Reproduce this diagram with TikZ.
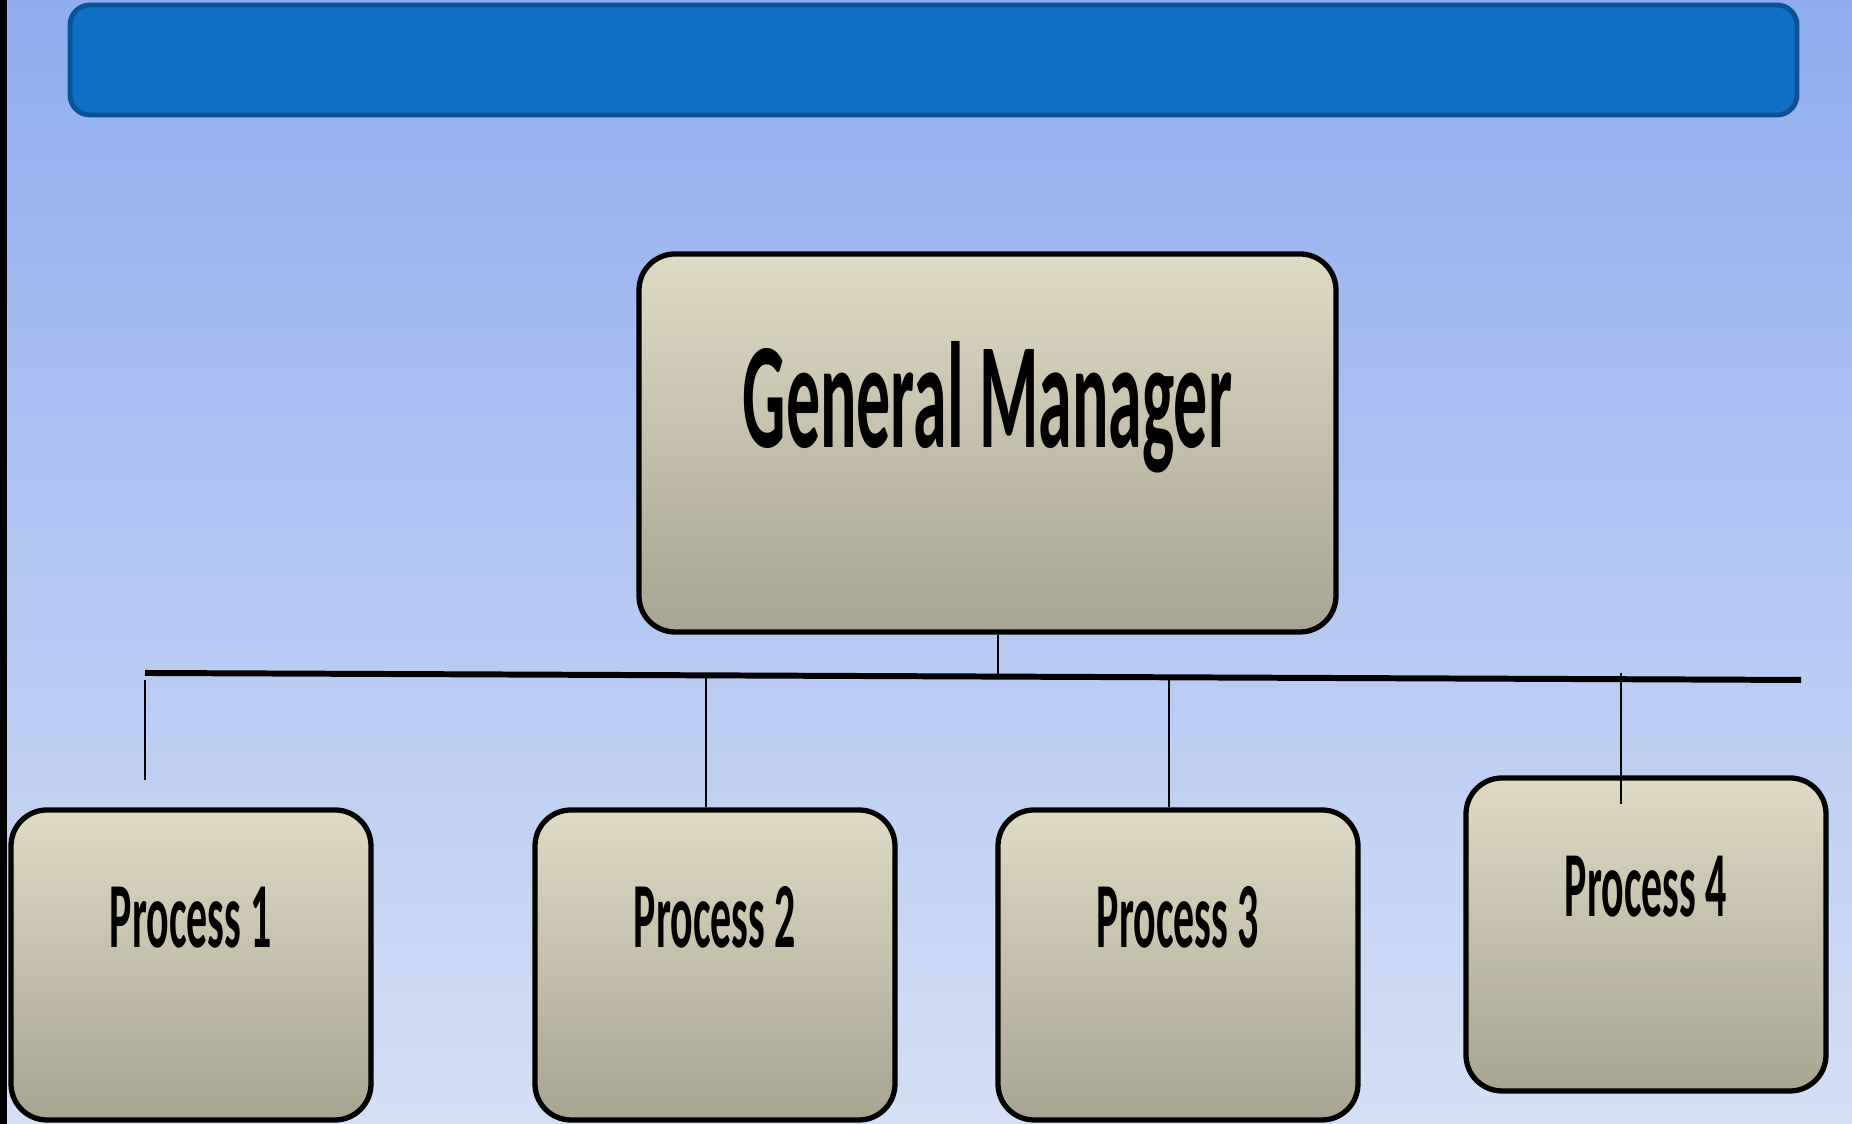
\documentclass[tikz,border=0pt]{standalone}
\usepackage{fontspec}
\setmainfont{Carlito}
\usepackage{tikz}

\definecolor{skytop}{RGB}{143,173,238}
\definecolor{skybottom}{RGB}{213,223,246}
\definecolor{barfill}{RGB}{16,110,198}
\definecolor{barline}{RGB}{10,82,150}
\definecolor{boxtop}{RGB}{223,218,196}
\definecolor{boxbottom}{RGB}{167,164,146}

\newcommand{\narrowtext}[1]{\scalebox{0.45}[1]{#1}}

\begin{document}
\begin{tikzpicture}[
    box/.style={draw, line width=1.5pt, rounded corners=0.36cm, top color=boxtop, bottom color=boxbottom, inner sep=0pt},
    gmbox/.style={box, minimum width=6.97cm, minimum height=3.78cm, font=\fontsize{43}{50}\selectfont\bfseries, text height=1cm, text depth=0.9cm},
    procbox/.style={box, minimum width=3.6cm, minimum height=3.1cm, font=\fontsize{26.5}{30}\selectfont\bfseries, text height=0.62cm, text depth=0.97cm},
    link/.style={line width=0.8pt}
  ]

    \useasboundingbox (0, 0) rectangle (18.52, 11.24);
    \shade [top color=skytop, bottom color=skybottom] (0, 0) rectangle (18.52, 11.24);
    \fill [black] (0, 0) rectangle (0.07, 11.24);

    \node [draw=barline, line width=1.4pt, fill=barfill, rounded corners=0.2cm, minimum width=17.27cm, minimum height=1.1cm] (titlebar) at (9.335, 10.64) {};

    \node [gmbox] (gm) at (9.875, 6.81) {\narrowtext{General Manager}};

    \node [procbox] (p1) at (1.91, 1.59) {\narrowtext{Process 1}};
    \node [procbox] (p2) at (7.15, 1.59) {\narrowtext{Process 2}};
    \node [procbox] (p3) at (11.78, 1.59) {\narrowtext{Process 3}};
    \node [procbox, minimum height=3.13cm] (p4) at (16.46, 1.895) {\narrowtext{Process 4}};

    \coordinate (busl) at (1.45, 4.51);
    \coordinate (busr) at (18.01, 4.44);
    \coordinate (gmfoot) at (9.98, 4.48);

    \coordinate (t1) at (1.45, 4.44);
    \coordinate (b1) at (1.45, 3.44);
    \coordinate (t2) at (7.06, 4.47);
    \coordinate (t3) at (11.69, 4.46);
    \coordinate (t4) at (16.21, 4.51);
    \coordinate (b4) at (16.21, 3.20);

    \draw [line width=1.7pt] (busl) to (busr);

    \draw [link] (gmfoot |- gm.south) to (gmfoot);

    \draw [link] (t1) to (b1);
    \draw [link] (t2) to (t2 |- p2.north);
    \draw [link] (t3) to (t3 |- p3.north);
    \draw [link] (t4) to (b4);

  \end{tikzpicture}
\end{document}
